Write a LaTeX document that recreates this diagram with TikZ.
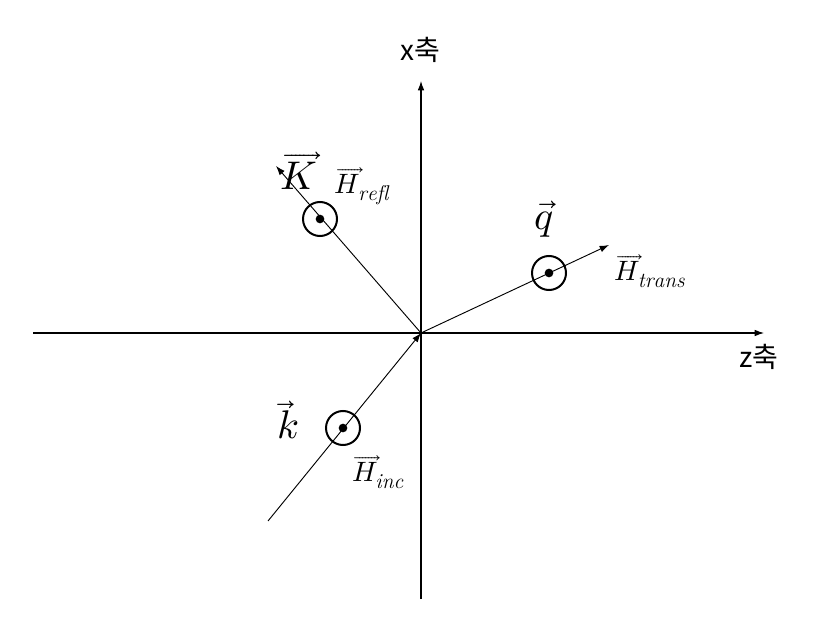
\documentclass[tikz,border=0pt]{standalone}
\usepackage{fontspec}
\usepackage{unicode-math}
\setmathfont{latinmodern-math.otf}
\DeclareMathSizes{21}{21}{16}{12}
\DeclareMathSizes{30}{30}{22}{16}
\newfontfamily\kfont{Noto Sans CJK KR}
\usetikzlibrary{arrows.meta}
\begin{document}
\begin{tikzpicture}[x=0.75pt,y=-0.75pt,
  axis/.style={line width=0.8pt,-{Latex[length=7pt,width=5pt]}},
  ray/.style={line width=0.7pt,-{Latex[length=7pt,width=5pt]}},
  field/.style={circle,draw,line width=1.5pt,minimum size=25.5pt,inner sep=0pt},
  dotc/.style={circle,fill,minimum size=6.5pt,inner sep=0pt},
  big/.style={font=\fontsize{30}{32}\selectfont,inner sep=0pt},
  small/.style={font=\fontsize{21}{23}\selectfont,inner sep=0pt},
  axlab/.style={font=\kfont\fontsize{21}{23}\selectfont}]
\useasboundingbox (0,0) rectangle (835,623);
\coordinate (O) at (421,333);
\coordinate (zl) at (33,333);
\coordinate (zr) at (764,333);
\coordinate (xb) at (421,599);
\coordinate (xt) at (421,81);
\coordinate (inc) at (268,521);
\coordinate (refl) at (276,166);
\coordinate (trans) at (609,245);
\draw[axis] (zl) -- (zr);
\draw[axis] (xb) -- (xt);
\draw[ray] (inc) -- (O);
\draw[ray] (O) -- (refl);
\draw[ray] (O) -- (trans);
\node[field] (cr) at (320,219) {};
\node[dotc] (dr) at (cr) {};
\node[field] (ct) at (549,273) {};
\node[dotc] (dt) at (ct) {};
\node[field] (ci) at (343,428) {};
\node[dotc] (di) at (ci) {};
\node[big] (lK) at (299,171) {$\overrightarrow{K}$};
\node[small] (lHr) at (362,186) {$\overrightarrow{H}_{\mathit{refl}}$};
\node[big] (lq) at (544,219) {$\vec{q}$};
\node[small] (lHt) at (650,271) {$\overrightarrow{H}_{\mathit{trans}}$};
\node[big] (lk) at (288,420) {$\overrightarrow{k}$};
\node[small] (lHi) at (378,472) {$\overrightarrow{H}_{\mathit{inc}}$};
\node[axlab] (lx) at (420,50) {x축};
\node[axlab] (lz) at (759,357) {z축};
\end{tikzpicture}
\end{document}
